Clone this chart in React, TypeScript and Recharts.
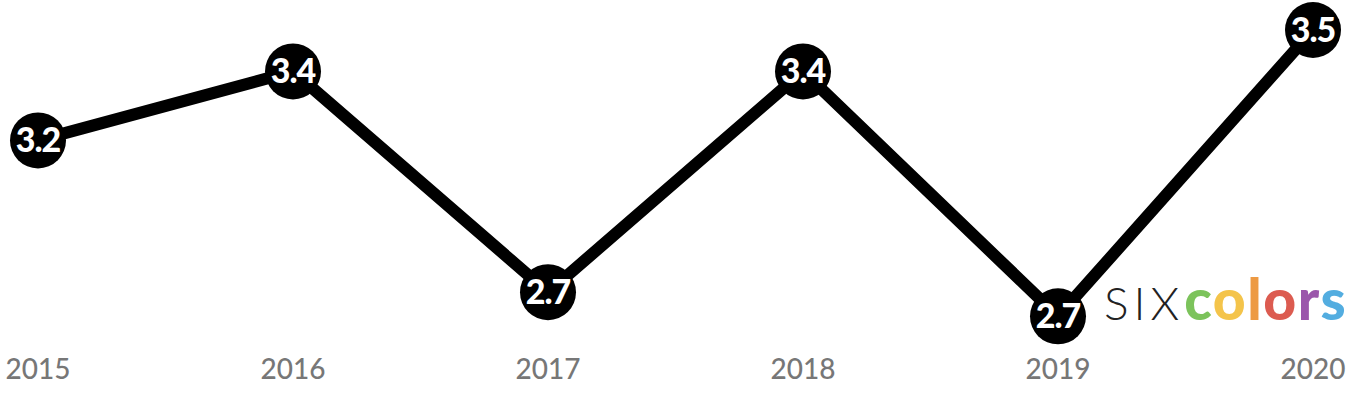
import { Line, LineChart, XAxis, YAxis } from "recharts";

const years = ["2015", "2016", "2017", "2018", "2019", "2020"];
const scores = [3.18, 3.38, 2.74, 3.38, 2.67, 3.5];

const LOGO_COLORS = ["#7cc35b", "#f4c44a", "#ed9a43", "#dc5b50", "#9b56ab", "#53ade0"];

const data = years.map((year, i) => ({ year, score: scores[i] }));

function ScoreDot({ cx, cy, payload }: { cx?: number; cy?: number; payload?: { score: number } }) {
  if (cx == null || cy == null || !payload) return null;
  return (
    <g>
      <circle cx={cx} cy={cy} r={28} fill="#000" />
      <text
        x={cx}
        y={cy + 12}
        textAnchor="middle"
        fill="#fff"
        fontFamily="Lato, sans-serif"
        fontWeight={900}
        fontSize={34}
        letterSpacing={-1}
      >
        {payload.score.toFixed(1)}
      </text>
    </g>
  );
}

function YearTick({ x, y, payload }: { x?: number; y?: number; payload?: { value: string } }) {
  return (
    <text
      x={x}
      y={(y ?? 0) + 30}
      textAnchor="middle"
      fill="#777"
      fontFamily="Lato, sans-serif"
      fontWeight={500}
      fontSize={28}
    >
      {payload?.value}
    </text>
  );
}

function Logo() {
  return (
    <div
      style={{
        position: "absolute",
        left: 1104,
        top: 270,
        fontFamily: "Lato, sans-serif",
        whiteSpace: "nowrap",
        lineHeight: 1,
      }}
    >
      <span style={{ fontSize: 46, fontWeight: 300, color: "#222", letterSpacing: 5 }}>SIX</span>
      <span style={{ fontSize: 57, fontWeight: 900, letterSpacing: 1.5 }}>
        {"colors".split("").map((ch, i) => (
          <span key={i} style={{ color: LOGO_COLORS[i] }}>
            {ch}
          </span>
        ))}
      </span>
    </div>
  );
}

export default function App() {
  return (
    <div style={{ position: "absolute", left: 0, top: 0, width: 1360, height: 404, background: "#fff" }}>
      <LineChart width={1360} height={404} data={data} margin={{ top: 30, right: 47, bottom: 0, left: 38 }}>
        <XAxis
          dataKey="year"
          axisLine={false}
          tickLine={false}
          height={63.5}
          interval={0}
          tick={(props: unknown) => <YearTick {...(props as object)} />}
        />
        <YAxis hide domain={[2.6, 3.5]} />
        <Line
          dataKey="score"
          stroke="#000"
          strokeWidth={12}
          strokeLinejoin="round"
          isAnimationActive={false}
          dot={(props: unknown) => {
            const p = props as { cx: number; cy: number; payload: { score: number }; index: number };
            return <ScoreDot key={p.index} cx={p.cx} cy={p.cy} payload={p.payload} />;
          }}
          activeDot={false}
        />
      </LineChart>
      <Logo />
    </div>
  );
}
